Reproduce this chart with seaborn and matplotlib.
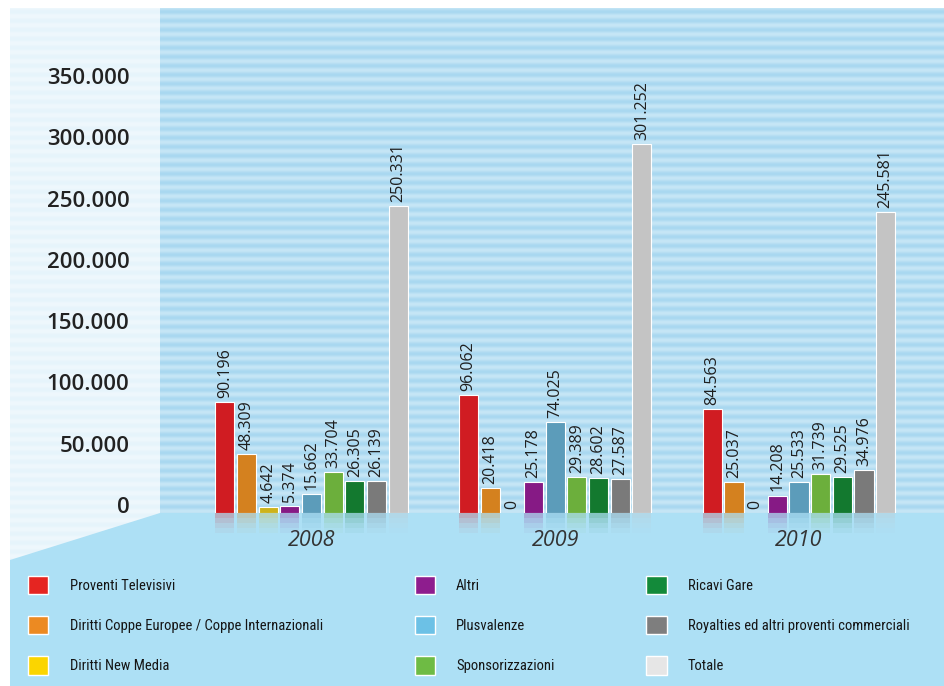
import matplotlib
matplotlib.use("Agg")
import numpy as np
import pandas as pd
import matplotlib.pyplot as plt
import seaborn as sns
from matplotlib import font_manager
from matplotlib.patches import Patch, Polygon, Rectangle

# values in thousands of euro
years = ["2008", "2009", "2010"]
categories = [
    "Proventi Televisivi",
    "Diritti Coppe Europee / Coppe Internazionali",
    "Diritti New Media",
    "Altri",
    "Plusvalenze",
    "Sponsorizzazioni",
    "Ricavi Gare",
    "Royalties ed altri proventi commerciali",
    "Totale",
]
proventi_tv = [90196, 96062, 84563]
diritti_coppe = [48309, 20418, 25037]
new_media = [4642, 0, 0]
altri = [5374, 25178, 14208]
plusvalenze = [15662, 74025, 25533]
sponsorizzazioni = [33704, 29389, 31739]
ricavi_gare = [26305, 28602, 29525]
royalties = [26139, 27587, 34976]
totale = [250331, 301252, 245581]
series = [proventi_tv, diritti_coppe, new_media, altri, plusvalenze,
          sponsorizzazioni, ricavi_gare, royalties, totale]
y_ticks = [0, 50000, 100000, 150000, 200000, 250000, 300000, 350000]

bar_colors = ["#d01c22", "#d4811f", "#cdb31c", "#861a85", "#5c9cba",
              "#6caf3c", "#13792f", "#7a7a7a", "#c4c4c4"]
legend_colors = ["#e52521", "#ec8a22", "#fbd500", "#8e1d8e", "#6cc1e6",
                 "#6ebb44", "#138a3a", "#7e7e7e", "#e6e6e6"]


def fmt(v):
    return f"{v:,}".replace(",", ".")


def legend_font():
    # the legend uses a condensed face; take the first one installed
    fonts = font_manager.fontManager.ttflist
    names = {f.name for f in fonts}
    for n in ["Liberation Sans Narrow", "Roboto Condensed", "Open Sans Condensed"]:
        if n in names:
            return {"family": [n, "DejaVu Sans"], "size": 10.5}
    if any(f.name == "DejaVu Sans" and f.stretch == "condensed" for f in fonts):
        return {"family": ["DejaVu Sans"], "stretch": "condensed", "size": 9.5}
    return {"family": ["Roboto", "DejaVu Sans"], "size": 9}


rows = []
for cat, vals in zip(categories, series):
    for yr, v in zip(years, vals):
        rows.append({"year": yr, "category": cat, "value": v})
df = pd.DataFrame(rows)

sns.set_theme(style="white")
plt.rcParams["font.family"] = ["Open Sans", "DejaVu Sans"]

W, H = 944, 686
fig = plt.figure(figsize=(W / 100, H / 100), dpi=100)

# background (pixel coordinates)
bg = fig.add_axes([0, 0, 1, 1], zorder=0)
bg.axis("off")


def stripes(y0, y1, light, dark, period=9):
    r = np.arange(y0, y1)
    t = (0.5 + 0.5 * np.sin(2 * np.pi * r / period))[:, None, None]
    lc = np.array(matplotlib.colors.to_rgb(light))[None, None, :]
    dc = np.array(matplotlib.colors.to_rgb(dark))[None, None, :]
    return lc * (1 - t) + dc * t


bg.imshow(stripes(8, 513, "#c6e6f6", "#a9d8f0"), extent=[160, W, 513, 8],
          aspect="auto", interpolation="bilinear")
bg.imshow(stripes(8, 560, "#eff8fd", "#e6f4fb"), extent=[10, 160, 560, 8],
          aspect="auto", interpolation="bilinear")
bg.add_patch(Polygon([(10, 560), (160, 513), (W, 513), (W, H), (10, H)],
                     closed=True, facecolor="#ade0f5", edgecolor="none"))
bg.set_xlim(0, W)
bg.set_ylim(H, 0)

# main chart
ax = fig.add_axes([160 / W, (H - 513) / H, (W - 160) / W, 505 / H], zorder=2)
ax.set_facecolor("none")
sns.barplot(data=df, x="year", y="value", hue="category", hue_order=categories,
            palette=bar_colors, saturation=1, gap=0.12, errorbar=None,
            edgecolor="white", linewidth=0.8, legend=False, ax=ax)

ax.set_xlim(-0.6215, 2.595)
ax.set_ylim(0, 412200)
sns.despine(ax=ax, left=True, bottom=True)
ax.set_xlabel("")
ax.set_ylabel("")

ax.set_yticks(y_ticks)
ax.set_yticklabels([fmt(t) for t in y_ticks])
ax.tick_params(axis="y", length=0, pad=22, labelsize=16, labelcolor="#222222")
for lbl in ax.get_yticklabels():
    lbl.set_fontweight("semibold")
    lbl.set_verticalalignment("baseline")

ax.tick_params(axis="x", length=0, pad=12, labelsize=15.5, labelcolor="#333333")
for lbl in ax.get_xticklabels():
    lbl.set_fontstyle("italic")

# value labels
for cont, vals in zip(ax.containers, series):
    ax.bar_label(cont, labels=[fmt(v) for v in vals], rotation=90, padding=3,
                 fontsize=11.5, color="#1e1e1e")

# faded reflections under the bars
for p in list(ax.patches):
    if p.get_height() <= 0:
        continue
    c = p.get_facecolor()
    for i, a in enumerate([0.25, 0.16, 0.09, 0.04]):
        ax.add_patch(Rectangle((p.get_x(), -4000 * (i + 1)), p.get_width(), 4000,
                               facecolor=c, alpha=a, edgecolor="none",
                               clip_on=False, zorder=1))

# legend
handles = [Patch(facecolor=c, edgecolor="white", linewidth=1.0) for c in legend_colors]
fig.legend(handles, categories, loc="upper left",
           bbox_to_anchor=(28 / W, 1 - 576 / H), ncol=3, frameon=False,
           prop=legend_font(), labelcolor="#151515", handlelength=1.4,
           handleheight=1.55, handletextpad=1.45, labelspacing=1.5,
           columnspacing=6.3, borderpad=0, borderaxespad=0)

fig.savefig("out.png", dpi=100)
